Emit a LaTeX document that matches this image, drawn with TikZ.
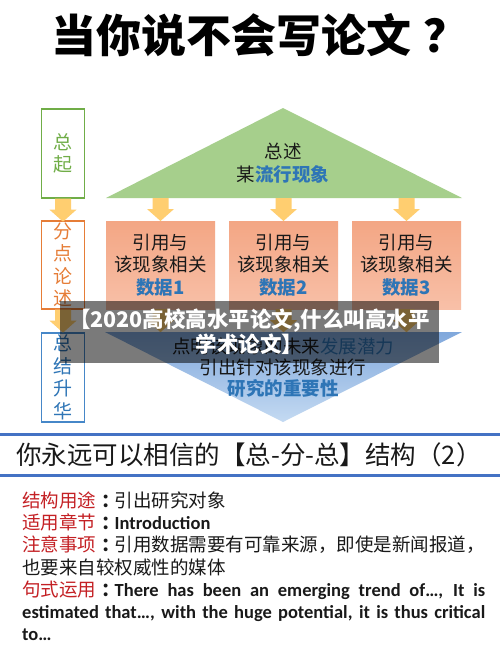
\documentclass[tikz,border=0pt]{standalone}
\usepackage{fontspec}
\newfontfamily\cjk{Noto Sans CJK SC}
\newfontfamily\en{Carlito}
\definecolor{cgreen}{RGB}{112,173,71}
\definecolor{corange}{RGB}{230,125,55}
\definecolor{cblueb}{RGB}{70,135,200}
\definecolor{ctblue}{RGB}{46,117,182}
\definecolor{trigreen}{RGB}{166,207,140}
\definecolor{boxtop}{RGB}{243,166,132}
\definecolor{boxbot}{RGB}{248,192,168}
\definecolor{arrowcol}{RGB}{255,206,112}
\definecolor{tribluetop}{RGB}{128,168,220}
\definecolor{tribluebot}{RGB}{196,218,242}
\definecolor{linecol}{RGB}{68,114,196}
\definecolor{labred}{RGB}{196,32,36}
\definecolor{txt}{RGB}{25,25,25}
\newcommand\mycolon{{\bfseries\kern5pt：\kern-5pt}}
\tikzset{
  sidebox/.style={draw=#1, text=#1, line width=1.3pt, minimum width=43pt, minimum height=89pt,
    inner sep=0pt, align=center, font=\cjk\fontsize{19}{22.5}\selectfont},
  databox/.style={top color=boxtop, bottom color=boxbot, minimum width=109pt, minimum height=88pt,
    inner sep=0pt, align=center, font=\cjk\fontsize{18.5}{22.5}\selectfont, text=txt},
  tritext/.style={align=center, inner sep=0pt, text=txt},
  bodytext/.style={anchor=base west, inner sep=0pt, font=\cjk\fontsize{18.5}{22}\selectfont, text=txt},
  barrow/.pic={\fill[arrowcol] (-8,0) -- (8,0) -- (8,11) -- (13.5,11) -- (0,23) -- (-13.5,11) -- (-8,11) -- cycle;},
  sepline/.style={draw=linecol, line width=3pt},
}
\begin{document}
\begin{tikzpicture}[x=1pt,y=-1pt]
\useasboundingbox (0,0) rectangle (500,665);
\fill[white] (0,0) rectangle (500,665);

% main title
\node[anchor=west, font=\cjk\bfseries\fontsize{45}{50}\selectfont, text=black, inner sep=0pt] (title) at (51,35) {当你说不会写论文\kern12pt？};

% left column
\node[sidebox=cgreen] (zq) at (63,153.5) {总\\起};
\node[sidebox=corange, minimum height=88pt] (fd) at (63,265) {分\\点\\论\\述};
\node[sidebox=cblueb, text=ctblue] (zj) at (63,377.5) {总\\结\\升\\华};

% green triangle
\coordinate (gA) at (283,108);
\coordinate (gL) at (106,198);
\coordinate (gR) at (462,198);
\fill[trigreen] (gA) -- (gR) -- (gL) -- cycle;
\node[tritext, font=\cjk\fontsize{18.5}{23}\selectfont] (gtext) at (283,163.5) {总述\\某{\bfseries\color{ctblue}流行现象}};

% data boxes
\node[databox] (d1) at (160.5,265) {引用与\\该现象相关\\{\bfseries\color{ctblue}数据1}};
\node[databox] (d2) at (283.5,265) {引用与\\该现象相关\\{\bfseries\color{ctblue}数据2}};
\node[databox] (d3) at (406.5,265) {引用与\\该现象相关\\{\bfseries\color{ctblue}数据3}};

% blue triangle
\coordinate (bL) at (105,332);
\coordinate (bR) at (462,332);
\coordinate (bA) at (283,422);
\shade[top color=tribluetop, bottom color=tribluebot] (bL) -- (bR) -- (bA) -- cycle;
\node[tritext, font=\cjk\fontsize{18.5}{20.8}\selectfont] (btext) at (283,367.5)
  {点明该现象的未来{\color{ctblue}发展潜力}\\引出针对该现象进行\\{\bfseries\color{ctblue}研究的重要性}};

% block arrows
\pic at (zq.south) {barrow};
\pic at (fd.south) {barrow};
\pic at (gL -| d1) {barrow};
\pic at (gL -| d2) {barrow};
\pic at (gL -| d3) {barrow};
\pic at (d1.south) {barrow};
\pic at (d2.south) {barrow};
\pic at (d3.south) {barrow};

% overlay caption
\node[fill=black, fill opacity=0.52, text opacity=1, text=white, minimum width=379pt, minimum height=62pt,
  inner sep=0pt, align=center, font=\cjk\bfseries\fontsize{21.5}{25}\selectfont] (ov) at (249.5,332)
  {【2020高校高水平论文,什么叫高水平\\学术论文】};

% lower section
\coordinate (l1a) at (0,434);
\coordinate (l1b) at (500,434);
\coordinate (l2a) at (0,475);
\coordinate (l2b) at (500,475);
\draw[sepline] (l1a) -- (l1b);
\draw[sepline] (l2a) -- (l2b);
\node[anchor=west, inner sep=0pt, font=\cjk\fontsize{25.5}{30}\selectfont, text=txt] (sub) at (16,455)
  {你永远可以相信的【总-分-总】结构（2）};

\node[bodytext] (t1) at (22,507) {{\color{labred}结构用途}\mycolon 引出研究对象};
\node[bodytext] (t2) at (22,529) {{\color{labred}适用章节}\mycolon{\en\bfseries Introduction}};
\node[bodytext] (t3) at (22,551) {{\color{labred}注意事项}\mycolon 引用数据需要有可靠来源，即使是新闻报道，};
\node[bodytext] (t4) at (22,574) {也要来自较权威性的媒体};
\node[bodytext] (t5) at (22,596) {\makebox[463pt][s]{{\color{labred}句式运用}\mycolon{\en\bfseries There has been an emerging trend of…, It is}}};
\node[bodytext] (t6) at (22,618) {\makebox[463pt][s]{\en\bfseries estimated that…, with the huge potential, it is thus critical}};
\node[bodytext] (t7) at (22,640) {{\en\bfseries to…}};
\end{tikzpicture}
\end{document}
